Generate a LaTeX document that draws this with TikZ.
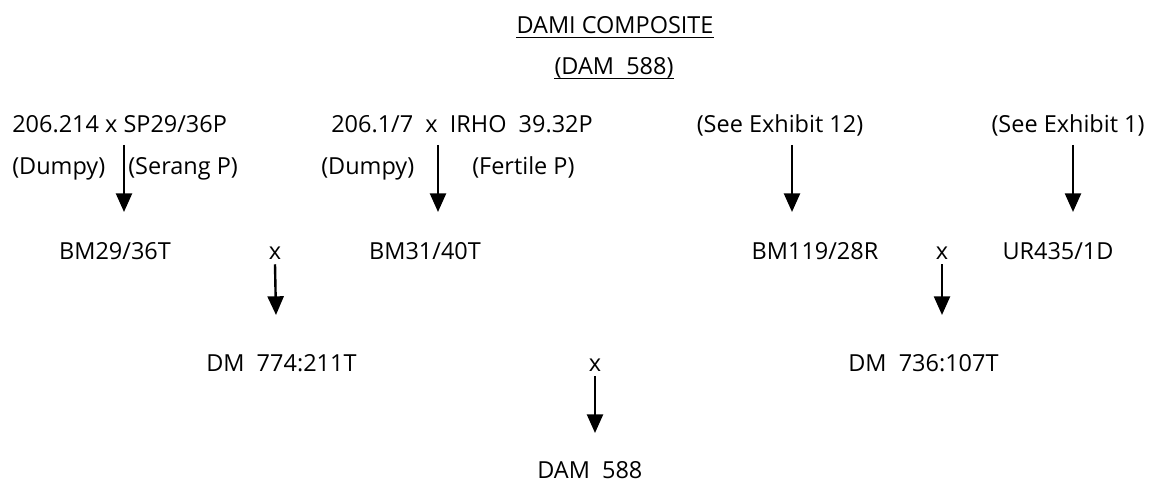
\documentclass[tikz,border=0pt]{standalone}
\usepackage{fontspec}
\setmainfont{Open Sans}
\usetikzlibrary{arrows.meta}
\tikzset{
  lbl/.style={inner sep=0pt, anchor=base, font=\fontsize{17.6}{20}\selectfont},
  lblw/.style={lbl, anchor=base west},
  cross/.style={-{Triangle[width=12pt,length=14pt]}, line width=1.8pt},
  uline/.style={line width=0.8pt}
}
\begin{document}
\begin{tikzpicture}[x=0.75pt,y=-0.75pt]
\useasboundingbox (0,0) rectangle (1157,484);
% title
\node[lbl] (title) at (615,34) {DAMI COMPOSITE};
\node[lbl] (sub) at (614,75) {(DAM\ \ 588)};
\draw[uline] ([yshift=-2.5pt]title.base west) -- ([yshift=-2.5pt]title.base east);
\draw[uline] ([yshift=-2.5pt]sub.base west) -- ([yshift=-2.5pt]sub.base east);
% row 1
\node[lblw] (p1) at (12,133) {206.214 x SP29/36P};
\node[lbl] (p2) at (462,133) {206.1/7\ \ x\ \ IRHO\ \ 39.32P};
\node[lbl] (e12) at (780,133) {(See Exhibit 12)};
\node[lbl] (e1) at (1068,133) {(See Exhibit 1)};
% row 2
\node[lblw] (d1) at (12,175) {(Dumpy)};
\node[lblw] (s1) at (128,175) {(Serang P)};
\node[lblw] (d2) at (321,175) {(Dumpy)};
\node[lblw] (f2) at (472,175) {(Fertile P)};
% row 3
\node[lbl] (bm29) at (115,260) {BM29/36T};
\node[lbl] (x1) at (275,260) {x};
\node[lbl] (bm31) at (425,260) {BM31/40T};
\node[lbl] (bm119) at (815,260) {BM119/28R};
\node[lbl] (x2) at (942,260) {x};
\node[lbl] (ur) at (1058,260) {UR435/1D};
% row 4
\node[lblw] (dm774) at (206,372) {DM\ \ 774:211T};
\node[lbl] (x3) at (595,372) {x};
\node[lblw] (dm736) at (848,372) {DM\ \ 736:107T};
% row 5
\node[lblw] (dam) at (537,479) {DAM\ \ 588};
% arrow anchors
\coordinate (a1s) at (124,145); \coordinate (a1e) at (124,212);
\coordinate (a2s) at (438,145); \coordinate (a2e) at (438,212);
\coordinate (a3s) at (792,145); \coordinate (a3e) at (792,212);
\coordinate (a4s) at (1073,145); \coordinate (a4e) at (1073,212);
\coordinate (a5e) at (276,315);
\coordinate (a6e) at (942,315);
\coordinate (a7e) at (595,433);
\draw[cross] (a1s) -- (a1e);
\draw[cross] (a2s) -- (a2e);
\draw[cross] (a3s) -- (a3e);
\draw[cross] (a4s) -- (a4e);
\draw[cross] ([yshift=-3pt]x1.south) -- (a5e);
\draw[cross] ([yshift=-3pt]x2.south) -- (a6e);
\draw[cross] ([yshift=-3pt]x3.south) -- (a7e);
\end{tikzpicture}
\end{document}
